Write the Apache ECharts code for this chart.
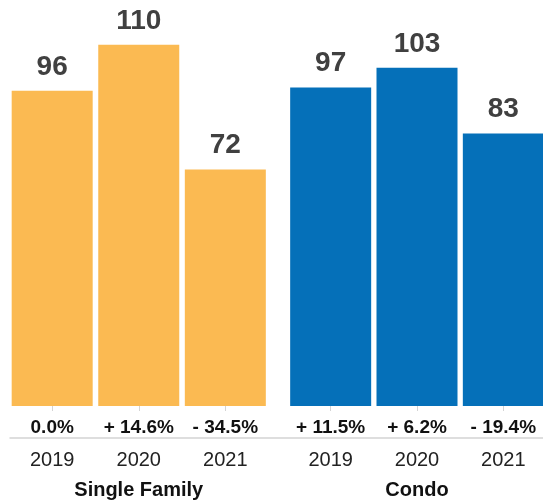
<!DOCTYPE html>
<html>
<head>
<meta charset="utf-8">
<style>
  html, body { margin: 0; padding: 0; background: #fff; }
  #chart { width: 543px; height: 503px; }
</style>
<script src="https://cdn.jsdelivr.net/npm/echarts@6/dist/echarts.min.js"></script>
</head>
<body>
<div id="chart"></div>
<script>
// Year categories shared by both property groups
const years = ['2019', '2020', '2021'];
const groupNames = ['Single Family', 'Condo'];

// Values per year
const singleFamilyValues = [96, 110, 72];
const condoValues = [97, 103, 83];

// Year-over-year change labels
const singleFamilyChange = ['0.0%', '+ 14.6%', '- 34.5%'];
const condoChange = ['+ 11.5%', '+ 6.2%', '- 19.4%'];

const FONT = '"Liberation Sans", Arial, Helvetica, sans-serif';
const ORANGE = '#FBBA52';
const BLUE = '#0570B9';
const AXIS_GRAY = '#d4d4d4';

const chart = echarts.init(document.getElementById('chart'), null, { renderer: 'canvas' });

function yearAxis(gridIndex, name) {
  return {
    type: 'category',
    gridIndex: gridIndex,
    data: years,
    position: 'bottom',
    offset: 32,
    axisLine: { show: false },
    axisTick: { show: true, alignWithLabel: true, interval: 0, length: 5, lineStyle: { color: AXIS_GRAY, width: 1 } },
    axisLabel: { interval: 0, hideOverlap: false, fontFamily: FONT, fontSize: 20, color: '#222', margin: 12 },
    name: name,
    nameLocation: 'middle',
    nameGap: 42,
    nameTextStyle: { fontFamily: FONT, fontSize: 20, fontWeight: 'bold', color: '#111' }
  };
}

function changeAxis(gridIndex, labels) {
  return {
    type: 'category',
    gridIndex: gridIndex,
    data: labels,
    position: 'bottom',
    offset: 0,
    axisLine: { show: false },
    axisTick: { show: false },
    splitLine: { show: false },
    axisLabel: { interval: 0, hideOverlap: false, fontFamily: FONT, fontSize: 19, fontWeight: 'bold', color: '#111', margin: 12 }
  };
}

function valueAxis(gridIndex) {
  return { type: 'value', gridIndex: gridIndex, min: 0, max: 120, show: false };
}

function barSeries(axisIndex, values, color) {
  return {
    type: 'bar',
    xAxisIndex: axisIndex,
    yAxisIndex: axisIndex,
    data: values,
    barWidth: 81,
    itemStyle: { color: color },
    label: {
      show: true,
      position: 'top',
      distance: 10,
      fontFamily: FONT,
      fontSize: 28,
      fontWeight: 'bold',
      color: '#404040'
    },
    silent: true,
    animation: false
  };
}

chart.setOption({
  animation: false,
  backgroundColor: '#fff',
  grid: [
    { left: 8.9, width: 259.7, top: 12, bottom: 97, outerBoundsMode: 'none', containLabel: false },
    { left: 287.5, width: 259, top: 12, bottom: 97, outerBoundsMode: 'none', containLabel: false },
    // full-width baseline running under both groups
    { left: 10, right: 0, top: 420, bottom: 65, outerBoundsMode: 'none', containLabel: false }
  ],
  xAxis: [
    yearAxis(0, groupNames[0]),
    yearAxis(1, groupNames[1]),
    {
      type: 'category',
      gridIndex: 2,
      data: [''],
      position: 'bottom',
      axisLine: { show: true, lineStyle: { color: AXIS_GRAY, width: 1.5 } },
      axisTick: { show: false },
      axisLabel: { show: false }
    },
    changeAxis(0, singleFamilyChange),
    changeAxis(1, condoChange)
  ],
  yAxis: [
    valueAxis(0),
    valueAxis(1),
    { type: 'value', gridIndex: 2, show: false }
  ],
  series: [
    barSeries(0, singleFamilyValues, ORANGE),
    barSeries(1, condoValues, BLUE)
  ]
});
</script>
</body>
</html>
